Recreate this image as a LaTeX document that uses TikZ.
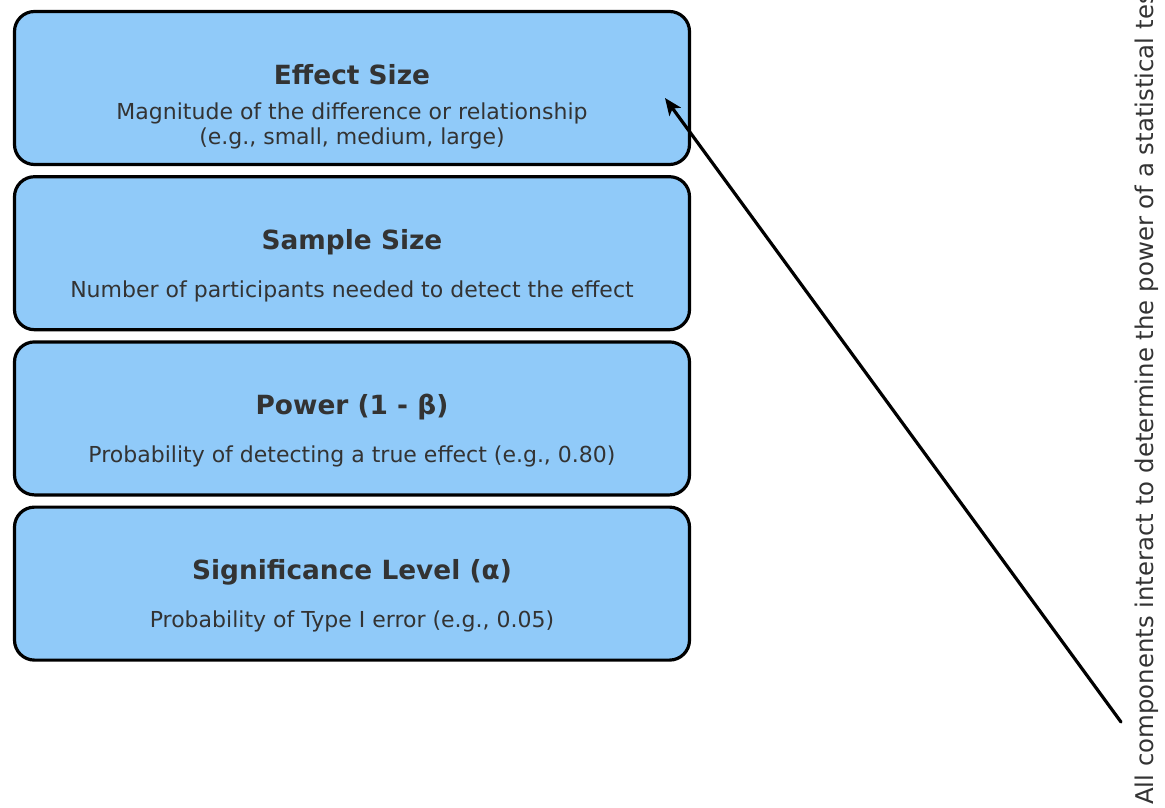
\documentclass[tikz,border=0pt]{standalone}
\usepackage{fontspec}
\setmainfont{DejaVu Sans}
\usepackage{tikz}
\usetikzlibrary{positioning}
\usetikzlibrary{arrows.meta}

\definecolor{boxblue}{HTML}{90CAF9}
\definecolor{textgray}{HTML}{333333}

\begin{document}
\begin{tikzpicture}
    [
    x=1pt,y=-1pt,
    box/.style={rectangle,rounded corners=20pt,draw=black,line width=3.2pt,fill=boxblue,minimum width=675pt,minimum height=153pt},
    title/.style={anchor=base,inner sep=0pt,text=textgray,font=\fontsize{26.4}{30}\selectfont\bfseries},
    info/.style={anchor=base,inner sep=0pt,align=center,text=textgray,font=\fontsize{22}{25}\selectfont},
    ]
    \useasboundingbox (0,0) rectangle (1165,807);

    \node (b1) at (352,88) [box] {};
    \node (b2) [box,below=9pt of b1] {};
    \node (b3) [box,below=9pt of b2] {};
    \node (b4) [box,below=9pt of b3] {};

    \node (t1) [title,yshift=4pt] at (b1.center) {Effect Size};
    \node (t2) [title,yshift=4pt] at (b2.center) {Sample Size};
    \node (t3) [title,yshift=4pt] at (b3.center) {Power (1 - β)};
    \node (t4) [title,yshift=4pt] at (b4.center) {Significance Level (α)};

    \node (s1) [info,yshift=-56pt] at (b1.center) {Magnitude of the difference or relationship\\(e.g., small, medium, large)};
    \node (s2) [info,yshift=-44pt] at (b2.center) {Number of participants needed to detect the effect};
    \node (s3) [info,yshift=-44pt] at (b3.center) {Probability of detecting a true effect (e.g., 0.80)};
    \node (s4) [info,yshift=-44pt] at (b4.center) {Probability of Type I error (e.g., 0.05)};

    \node (note) at (1153,805) [anchor=base west,rotate=90,inner sep=0pt,text=textgray,font=\fontsize{24.4}{28}\selectfont] {All components interact to determine the power of a statistical test};

    \coordinate (tail) at (1121,722);
    \coordinate (tip) at (665,98);
    \draw [-{Stealth[length=17pt,width=14pt,inset=4pt]},line width=3.2pt,line cap=round] (tail) to (tip);
  \end{tikzpicture}
\end{document}
